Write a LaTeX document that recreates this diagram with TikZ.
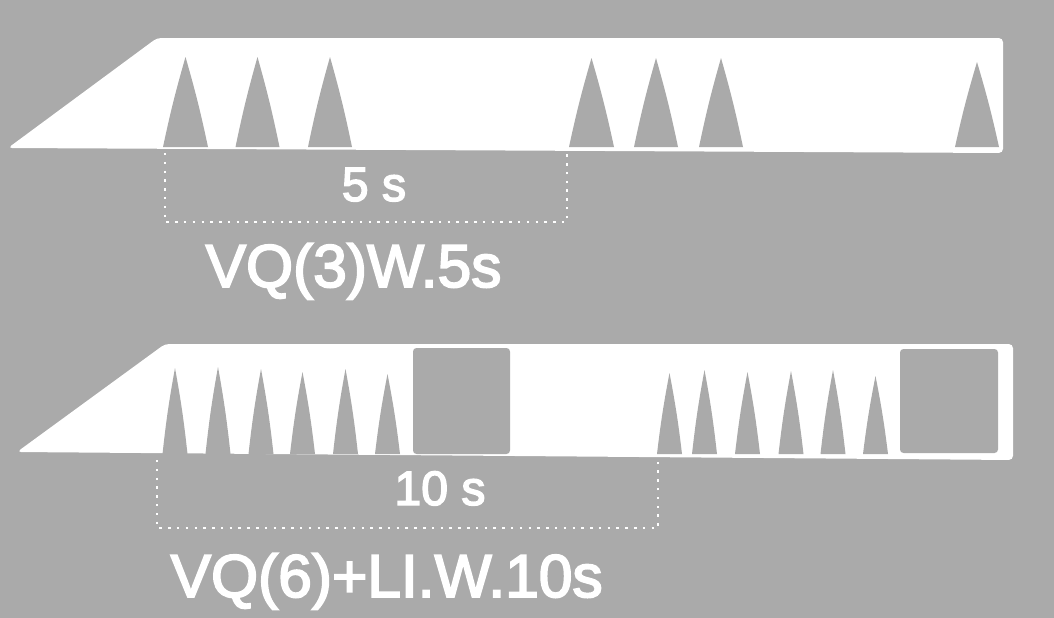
\documentclass[tikz,border=0pt]{standalone}
\usepackage{fontspec}
\setmainfont{Liberation Sans}
\newfontfamily\labelfont[FakeBold=3]{Liberation Sans}
\definecolor{bggray}{RGB}{170,170,170}

\begin{document}
\begin{tikzpicture}[x=0.01cm, y=-0.01cm,
    band/.style={fill=white, rounded corners=1.2pt},
    spike/.style={fill=bggray},
    pause/.style={fill=bggray, rounded corners=1pt},
    span/.style={draw=white, line width=0.7pt, dash pattern=on 0.7pt off 1.8pt},
    dur/.style={text=white, inner sep=0pt, font=\labelfont\fontsize{13.7pt}{16pt}\selectfont},
    mode/.style={text=white, inner sep=0pt, font=\labelfont\fontsize{17.2pt}{20pt}\selectfont}]
  % background
  \fill[bggray] (0,0) rectangle (1054,618);
  \useasboundingbox (0,0) rectangle (1054,618);

  % upper train: VQ(3)W.5s
  \fill[band] (8,148) -- (157,38) -- (1003,38) -- (1003,153) -- cycle;
  \foreach \c/\w/\t in {185.5/22.5/57, 257.5/22/57, 330/22/57, 591.5/22.5/58,
                        656/22/58, 721/22/58, 977/22/62}
    \fill[spike] (\c-\w,147) to[bend left=2] (\c,\t) to[bend left=2] (\c+\w,147) -- cycle;
  % 5 s window
  \coordinate (a1) at (165,153);
  \coordinate (a2) at (165,222);
  \coordinate (a3) at (567,222);
  \coordinate (a4) at (567,153);
  \draw[span] (a1) -- (a2) -- (a3) -- (a4);
  \node[dur, anchor=base] (fives) at (374,201) {5 s};
  \node[mode, anchor=base west] (vqthree) at (205,287) {VQ(3)W.5s};

  % lower train: VQ(6)+LI.W.10s
  \fill[band] (17,452) -- (165,344) -- (1013,344) -- (1013,460) -- cycle;
  \foreach \c/\t in {175/368, 218/367, 261/369, 302.5/372, 345.5/369, 387.5/374,
                     669.5/373, 704.5/370, 747.5/372, 791/371, 833/370, 875.5/376}
    \fill[spike] (\c-12.5,454) to[bend left=2] (\c,\t) to[bend left=2] (\c+12.5,454) -- cycle;
  \fill[pause] (413,348) rectangle (510,454);
  \fill[pause] (900,349) rectangle (998,453);
  % 10 s window
  \coordinate (b1) at (157,460);
  \coordinate (b2) at (157,528);
  \coordinate (b3) at (658,528);
  \coordinate (b4) at (658,459);
  \draw[span] (b1) -- (b2) -- (b3) -- (b4);
  \node[dur, anchor=base] (tens) at (440,505) {10 s};
  \node[mode, anchor=base west] (vqsix) at (170,597) {VQ(6)+LI.W.10s};
\end{tikzpicture}
\end{document}
